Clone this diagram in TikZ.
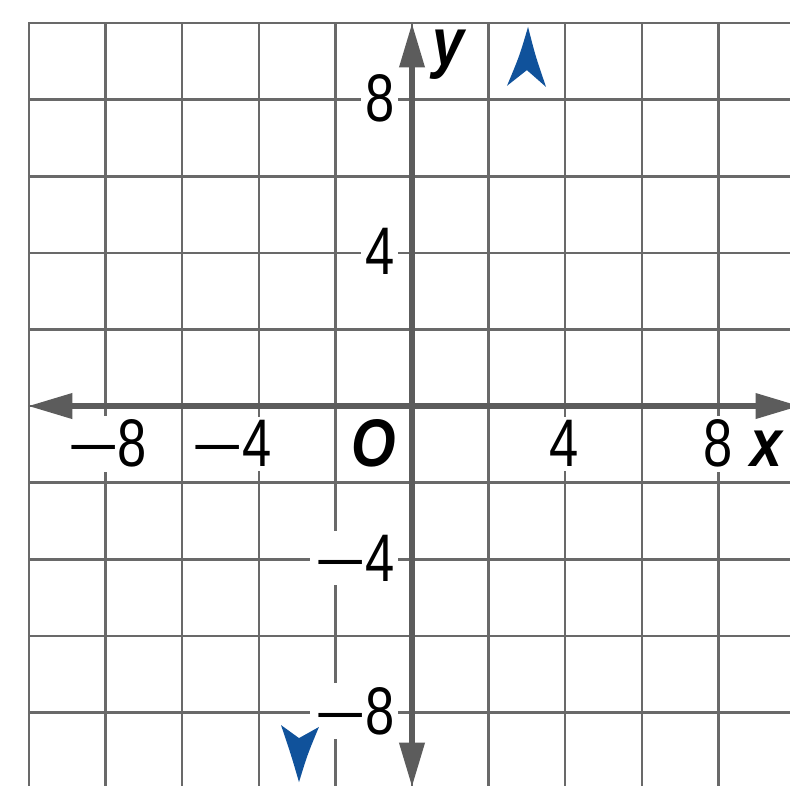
\documentclass[tikz,border=0pt]{standalone}
\usepackage{fontspec}
\usepackage{graphicx}
\setmainfont{Liberation Sans}
\usetikzlibrary{arrows.meta}
\definecolor{gridc}{RGB}{105,105,105}
\definecolor{axisc}{RGB}{92,92,92}
\definecolor{bluec}{RGB}{16,82,155}
\newcommand\cnd[1]{\scalebox{0.78}[1]{#1}}
\newcommand\mn{\scalebox{1.33}[0.85]{−}\kern-0.5pt}
\newcommand\lt[1]{\scalebox{0.85}[1]{\textbf{\textit{#1}}}}
\tikzset{
  gridline/.style={draw=gridc, line width=0.95pt, line cap=rect},
  axisline/.style={draw=axisc, line width=2.3pt,
    {Triangle[length=16.5pt,width=9pt]}-{Triangle[length=16.5pt,width=9pt]}},
  lbl/.style={fill=white, inner sep=1.5pt, text=black,
    font=\fontsize{25}{30}\selectfont},
  bluehead/.style={fill=bluec, draw=none}
}
\begin{document}
\begin{tikzpicture}[x=0.5cm,y=0.5cm]
\useasboundingbox (-10.757,-9.896) rectangle (9.869,10.601);
\clip (-10.757,-9.896) rectangle (9.869,10.601);
% grid
\foreach \i in {-10,-8,...,10} \draw[gridline] (\i,-10.6) -- (\i,10);
\foreach \j in {-10,-8,...,10} \draw[gridline] (-10,\j) -- (10.6,\j);
% x-axis labels
\node[lbl, anchor=base] (xm8) at (-7.96,-1.59) {\mn\cnd{8}};
\node[lbl, anchor=base] (xm4) at (-4.70,-1.59) {\mn\cnd{4}};
\node[lbl, anchor=base] (orig) at (-0.99,-1.59) {\lt{O}};
\node[lbl, anchor=base] (xp4) at (3.97,-1.59) {\cnd{4}};
\node[lbl, anchor=base] (xp8) at (7.99,-1.59) {\cnd{8}};
\node[lbl, anchor=base] (xlab) at (9.27,-1.59) {\lt{x}};
% y-axis labels
\node[lbl, anchor=base] (ylab) at (0.99,8.90) {\lt{y}};
\node[lbl, anchor=base east] (yp8) at (-0.34,7.426) {\cnd{8}};
\node[lbl, anchor=base east] (yp4) at (-0.34,3.426) {\cnd{4}};
\node[lbl, anchor=base east] (ym4) at (-0.34,-4.574) {\mn\cnd{4}};
\node[lbl, anchor=base east] (ym8) at (-0.34,-8.574) {\mn\cnd{8}};
% axes
\coordinate (xleft) at (-10.03,0);
\coordinate (xright) at (10.13,0);
\coordinate (ytop) at (0,10.0);
\coordinate (ybot) at (0,-9.95);
\draw[axisline] (xleft) -- (xright);
\draw[axisline] (ybot) -- (ytop);
% blue arrowheads
\fill[bluehead] (3.03,9.90) .. controls (2.81,9.15) .. (2.48,8.36)
  -- (3.00,8.77) -- (3.50,8.33) .. controls (3.22,9.15) .. (3.03,9.90) -- cycle;
\fill[bluehead] (-2.95,-9.82) .. controls (-3.16,-9.1) .. (-3.42,-8.33)
  -- (-2.95,-8.67) -- (-2.43,-8.38) .. controls (-2.73,-9.1) .. (-2.95,-9.82) -- cycle;
\end{tikzpicture}
\end{document}
